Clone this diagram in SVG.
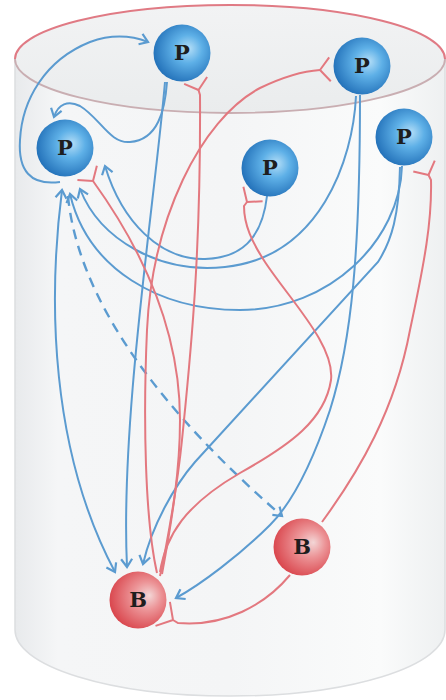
<svg xmlns="http://www.w3.org/2000/svg" width="446" height="700" viewBox="0 0 446 700">
<defs>
<linearGradient id="gBody" x1="0" y1="0" x2="1" y2="0">
<stop offset="0" stop-color="#e8eaec"/>
<stop offset="0.1" stop-color="#f5f6f7"/>
<stop offset="0.5" stop-color="#f4f5f6"/>
<stop offset="0.85" stop-color="#fafbfb"/>
<stop offset="1" stop-color="#eef0f1"/>
</linearGradient>
<linearGradient id="gTop" x1="0" y1="0" x2="0" y2="1">
<stop offset="0" stop-color="#f2f3f4"/>
<stop offset="1" stop-color="#eaeced"/>
</linearGradient>
<radialGradient id="gP" cx="0.58" cy="0.45" r="0.62" fx="0.62" fy="0.42">
<stop offset="0" stop-color="#b4def7"/>
<stop offset="0.4" stop-color="#5eb0e7"/>
<stop offset="1" stop-color="#1f6db6"/>
</radialGradient>
<radialGradient id="gB" cx="0.6" cy="0.45" r="0.62" fx="0.7" fy="0.42">
<stop offset="0" stop-color="#f3d6d6"/>
<stop offset="0.4" stop-color="#ec9497"/>
<stop offset="1" stop-color="#d9444b"/>
</radialGradient>
<marker id="arr" markerUnits="userSpaceOnUse" markerWidth="14" markerHeight="14" viewBox="-10 -7 12 14" refX="0" refY="0" orient="auto-start-reverse">
<path d="M-8,-5.5 L0,0 L-8,5.5" fill="none" stroke="#5b9bd0" stroke-width="2.2" stroke-linejoin="miter"/>
</marker>
<marker id="fork" markerUnits="userSpaceOnUse" markerWidth="16" markerHeight="30" viewBox="-2 -15 16 30" refX="0" refY="0" orient="auto" overflow="visible">
<path d="M0,0 L10,-12 M0,0 L10,12" fill="none" stroke="#e3787f" stroke-width="2"/>
</marker>
<marker id="forkL" markerUnits="userSpaceOnUse" markerWidth="18" markerHeight="34" viewBox="-2 -17 18 34" refX="0" refY="0" orient="auto" overflow="visible">
<path d="M0,0 L12,-14 M0,0 L12,14" fill="none" stroke="#e3787f" stroke-width="2"/>
</marker>
<style>
.b{fill:none;stroke:#5b9bd0;stroke-width:2;marker-end:url(#arr)}
.d{fill:none;stroke:#5b9bd0;stroke-width:2.4;stroke-dasharray:10 7;marker-end:url(#arr)}
.r{fill:none;stroke:#e3787f;stroke-width:2;marker-end:url(#fork)}
.lbl{font-family:"DejaVu Serif","Liberation Serif",serif;font-weight:bold;font-size:21px;fill:#1e1e1e;text-anchor:middle}
</style>
</defs>
<rect width="446" height="700" fill="#ffffff"/>
<g id="cylinder">
<path d="M15,59 V630 A215,66 0 0 0 445,630 V59 Z" fill="url(#gBody)" stroke="#dcdee0" stroke-width="1.5"/>
<ellipse cx="230" cy="59" rx="215" ry="54" fill="url(#gTop)"/>
<path d="M15,59 A215,54 0 0 1 445,59" fill="none" stroke="#e07a84" stroke-width="2"/>
<path d="M15,59 A215,54 0 0 0 445,59" fill="none" stroke="#c9aeb2" stroke-width="1.8"/>
</g>
<g id="connectors">
<path class="b" d="M60,182 C30,186 18,170 20,140 C22,100 45,60 90,42 C115,33 135,37 148,42"/>
<path class="b" d="M167,82 C165,110 158,140 130,142 C110,144 100,118 80,106 C68,100 58,104 54,117"/>
<path class="b" d="M165,82 C155,200 120,420 127,567"/>
<path class="b" style="marker-start:url(#arr)" d="M62,190 C48,300 50,450 115,572"/>
<path class="b" d="M267,196 C262,240 240,258 205,259 C160,260 122,222 105,166"/>
<path class="b" d="M356,96 C353,160 320,257 225,267 C160,274 100,240 80,189"/>
<path class="b" d="M402,166 C400,240 330,310 240,310 C160,310 88,270 70,194"/>
<path class="b" d="M400,167 C399,215 392,240 378,262 L195,462 C175,485 152,525 143,564"/>
<path class="b" d="M360,95 C360,250 352,340 330,410 C310,470 290,505 270,525 C240,555 200,585 176,598"/>
<path class="d" d="M68,196 C78,300 160,410 282,516"/>
<path class="r" d="M160,576 C168,540 178,480 182,440 C190,360 201,260 200,95 L198.5,90"/>
<path class="r" d="M157,573 C145,520 143,420 147,330 C152,220 200,120 260,88 C285,76 305,71 320,70"/>
<path class="r" d="M162,574 C172,520 180,470 180,420 C180,340 150,260 93,181"/>
<path class="r" d="M160,572 C166,535 185,505 240,473 C290,445 325,420 331,380 C335,345 290,300 265,262 C252,242 244,225 244,206 L247,202"/>
<path class="r" d="M322,522 C360,470 395,410 410,330 C425,260 432,220 431,180 L428.5,175"/>
<path class="r" style="marker-end:url(#forkL)" d="M290,575 C265,605 225,627 178,623 L173,620"/>
</g>
<g id="p1"><circle cx="182" cy="53" r="28.5" fill="url(#gP)"/><text class="lbl" x="182" y="60">P</text></g>
<g id="p2"><circle cx="362" cy="66" r="28.5" fill="url(#gP)"/><text class="lbl" x="362" y="73">P</text></g>
<g id="p3"><circle cx="65" cy="148" r="28.5" fill="url(#gP)"/><text class="lbl" x="65" y="155">P</text></g>
<g id="p4"><circle cx="270" cy="168" r="28.5" fill="url(#gP)"/><text class="lbl" x="270" y="175">P</text></g>
<g id="p5"><circle cx="404" cy="137" r="28.5" fill="url(#gP)"/><text class="lbl" x="404" y="144">P</text></g>
<g id="b1"><circle cx="138" cy="600" r="28.5" fill="url(#gB)"/><text class="lbl" x="138" y="607">B</text></g>
<g id="b2"><circle cx="302" cy="547" r="28.5" fill="url(#gB)"/><text class="lbl" x="302" y="554">B</text></g>
</svg>
